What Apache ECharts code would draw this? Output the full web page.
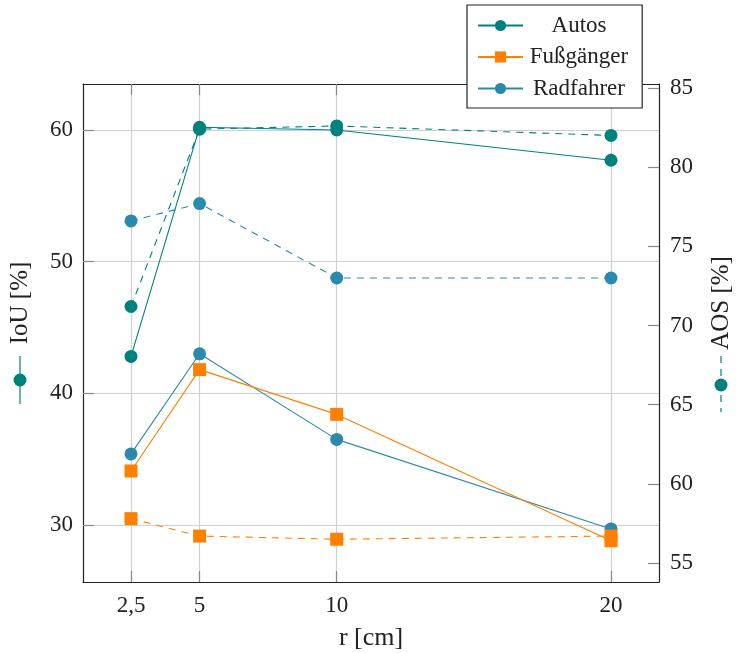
<!DOCTYPE html>
<html>
<head>
<meta charset="utf-8">
<script src="https://cdn.jsdelivr.net/npm/echarts@6/dist/echarts.min.js"></script>
<style>
  html, body { margin: 0; padding: 0; background: #fff; }
  #main { width: 736px; height: 653px; }
</style>
</head>
<body>
<div id="main"></div>
<script>
// r [cm]
var radii = [2.5, 5, 10, 20];
var xTicks = [2.5, 5, 10, 20];
var iouTicks = [30, 40, 50, 60];
var aosTicks = [55, 60, 65, 70, 75, 80, 85];

// IoU [%] (linke Achse, durchgezogen)
var autosIoU = [42.8, 60.2, 60.0, 57.7];
var fussIoU = [34.1, 41.8, 38.4, 28.8];
var radIoU = [35.4, 43.0, 36.5, 29.7];

// AOS [%] (rechte Achse, gestrichelt)
var autosAOS = [71.2, 82.4, 82.6, 82.0];
var fussAOS = [57.8, 56.7, 56.5, 56.7];
var radAOS = [76.6, 77.7, 73.0, 73.0];

var names = ['Autos', 'Fußgänger', 'Radfahrer'];
var colors = { 'Autos': '#00827c', 'Fußgänger': '#ff8000', 'Radfahrer': '#2a89ad' };
var symbols = { 'Autos': 'circle', 'Fußgänger': 'rect', 'Radfahrer': 'circle' };

var font = 'Liberation Serif';

function pairs(vals) {
    return radii.map(function (r, i) { return [r, vals[i]]; });
}

function makeSeries(name, vals, yIndex, dashed) {
    return {
        name: name,
        type: 'line',
        xAxisIndex: 0,
        yAxisIndex: yIndex,
        data: pairs(vals),
        symbol: symbols[name],
        symbolSize: 13,
        itemStyle: { color: colors[name] },
        lineStyle: { color: colors[name], width: 1.1, type: dashed ? [7, 6] : 'solid' },
        emphasis: { disabled: true }
    };
}

var axisLineStyle = { lineStyle: { color: '#222', width: 1.2 } };
var tickLine = { color: '#888', width: 1.2 };
var gridLine = { color: '#d0d0d0', width: 1.2 };

var myChart = echarts.init(document.getElementById('main'));

var option = {
    animation: false,
    backgroundColor: '#fff',
    grid: { left: 83, right: 77, top: 84, bottom: 71, containLabel: false, outerBoundsMode: 'none' },
    legend: {
        data: names,
        orient: 'vertical',
        left: 467,
        top: 5,
        padding: [9, 14, 8, 10],
        itemGap: 8.5,
        itemWidth: 45,
        itemHeight: 14,
        backgroundColor: '#fff',
        borderColor: '#222',
        borderWidth: 1.2,
        borderRadius: 0,
        selectedMode: false,
        formatter: '{t|{name}}',
        textStyle: {
            rich: {
                t: { fontFamily: font, fontSize: 23, color: '#222', width: 102, align: 'center' }
            }
        }
    },
    xAxis: [
        {
            type: 'value',
            min: 0.75,
            max: 21.75,
            name: 'r [cm]',
            nameLocation: 'middle',
            nameGap: 43,
            nameTextStyle: { fontFamily: font, fontSize: 26, color: '#222' },
            axisLine: axisLineStyle,
            axisTick: { inside: true, length: 11, customValues: xTicks, lineStyle: tickLine },
            axisLabel: {
                customValues: xTicks,
                fontFamily: font, fontSize: 23, color: '#222', margin: 12,
                formatter: function (v) { return String(v).replace('.', ','); }
            },
            splitLine: { show: true, lineStyle: gridLine }
        },
        {
            type: 'value',
            position: 'top',
            min: 0.75,
            max: 21.75,
            axisLine: axisLineStyle,
            axisTick: { inside: true, length: 11, customValues: xTicks, lineStyle: tickLine },
            axisLabel: { show: false },
            splitLine: { show: false }
        }
    ],
    yAxis: [
        {
            type: 'value',
            position: 'left',
            min: 25.67,
            max: 63.49,
            name: 'IoU [%]',
            nameLocation: 'middle',
            nameRotate: 90,
            nameGap: 50,
            nameTextStyle: { fontFamily: font, fontSize: 25, color: '#222', padding: [0, 0, 0, 60] },
            axisLine: { show: true, lineStyle: axisLineStyle.lineStyle },
            axisTick: { show: true, inside: true, length: 11, customValues: iouTicks, lineStyle: tickLine },
            axisLabel: { customValues: iouTicks, fontFamily: font, fontSize: 23, color: '#222', margin: 10 },
            splitLine: { show: true, lineStyle: gridLine }
        },
        {
            type: 'value',
            position: 'right',
            min: 53.8,
            max: 85.25,
            name: 'AOS [%]',
            nameLocation: 'middle',
            nameRotate: 90,
            nameGap: 50,
            nameTextStyle: { fontFamily: font, fontSize: 25, color: '#222', padding: [0, 0, 0, 60] },
            axisLine: { show: true, lineStyle: axisLineStyle.lineStyle },
            axisTick: { show: true, inside: true, length: 11, customValues: aosTicks, lineStyle: tickLine },
            axisLabel: { customValues: aosTicks, fontFamily: font, fontSize: 23, color: '#222', margin: 11 },
            splitLine: { show: false }
        }
    ],
    graphic: [
        // Markierung neben "IoU [%]"
        { type: 'line', shape: { x1: 20, y1: 356, x2: 20, y2: 404 }, style: { stroke: colors['Autos'], lineWidth: 1.2 } },
        { type: 'circle', shape: { cx: 20, cy: 380, r: 6.5 }, style: { fill: colors['Autos'] } },
        // Markierung neben "AOS [%]"
        { type: 'line', shape: { x1: 721, y1: 356, x2: 721, y2: 412 }, style: { stroke: colors['Autos'], lineWidth: 1.2, lineDash: [7, 6] } },
        { type: 'circle', shape: { cx: 721, cy: 385, r: 6.5 }, style: { fill: colors['Autos'] } }
    ],
    series: [
        makeSeries('Autos', autosIoU, 0, false),
        makeSeries('Radfahrer', radIoU, 0, false),
        makeSeries('Fußgänger', fussIoU, 0, false),
        makeSeries('Autos', autosAOS, 1, true),
        makeSeries('Radfahrer', radAOS, 1, true),
        makeSeries('Fußgänger', fussAOS, 1, true)
    ]
};

myChart.setOption(option);
</script>
</body>
</html>
